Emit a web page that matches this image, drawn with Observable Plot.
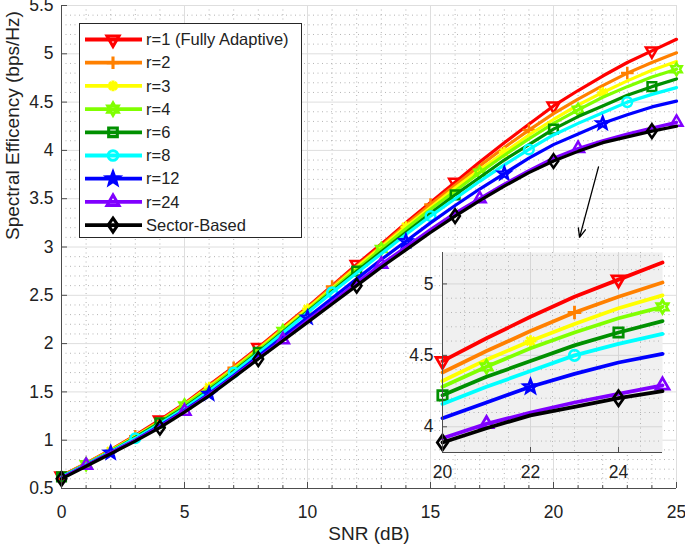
<!DOCTYPE html>
<html>
<head>
<meta charset="utf-8">
<script src="https://cdn.jsdelivr.net/npm/d3@7"></script>
<script src="https://cdn.jsdelivr.net/npm/@observablehq/plot@0.6"></script>
<style>
  html, body { margin: 0; padding: 0; background: #fff; }
  #wrap { position: relative; width: 685px; height: 551px; overflow: hidden; }
  #wrap svg { position: absolute; left: 0; top: 0; }
</style>
</head>
<body>
<div id="wrap"></div>
<script>
// ---------------- DATA ----------------
const snr = [0,1,2,3,4,5,6,7,8,9,10,11,12,13,14,15,16,17,18,19,20,21,22,23,24,25];

const seriesLabels = ["r=1 (Fully Adaptive)", "r=2", "r=3", "r=4", "r=6", "r=8", "r=12", "r=24", "Sector-Based"];
const seriesColors = ["#ff0000", "#ff8000", "#ffff00", "#80ff00", "#009000", "#00ffff", "#0000ff", "#8000ff", "#000000"];
const markerStart  = [0, 3, 2, 1, 0, 3, 2, 1, 0];

const r1  = [0.63,0.76,0.90,1.05,1.21,1.38,1.57,1.76,1.96,2.17,2.38,2.60,2.82,3.03,3.25,3.46,3.67,3.88,4.08,4.27,4.46,4.62,4.77,4.91,5.03,5.15];
const r2  = [0.63,0.76,0.90,1.04,1.20,1.37,1.56,1.75,1.95,2.16,2.37,2.59,2.80,3.01,3.23,3.44,3.64,3.84,4.03,4.21,4.38,4.53,4.67,4.80,4.91,5.01];
const r3  = [0.62,0.75,0.89,1.04,1.19,1.37,1.55,1.74,1.94,2.15,2.36,2.57,2.79,3.00,3.21,3.41,3.61,3.80,3.98,4.16,4.32,4.47,4.60,4.72,4.83,4.92];
const r4  = [0.62,0.75,0.89,1.03,1.19,1.36,1.54,1.73,1.93,2.13,2.34,2.56,2.77,2.98,3.19,3.39,3.58,3.77,3.95,4.12,4.28,4.42,4.55,4.66,4.76,4.84];
const r6  = [0.62,0.75,0.88,1.03,1.18,1.34,1.52,1.71,1.91,2.12,2.33,2.54,2.75,2.95,3.15,3.35,3.54,3.72,3.90,4.06,4.22,4.35,4.46,4.57,4.66,4.74];
const r8  = [0.62,0.75,0.88,1.02,1.17,1.33,1.51,1.70,1.90,2.11,2.32,2.53,2.73,2.93,3.13,3.32,3.50,3.68,3.85,4.01,4.16,4.28,4.39,4.50,4.58,4.65];
const r12 = [0.61,0.74,0.87,1.00,1.15,1.31,1.48,1.67,1.87,2.07,2.27,2.47,2.67,2.87,3.06,3.25,3.43,3.60,3.76,3.92,4.06,4.17,4.28,4.37,4.45,4.51];
const r24 = [0.61,0.74,0.87,1.00,1.14,1.30,1.47,1.66,1.85,2.04,2.24,2.43,2.63,2.82,3.00,3.18,3.35,3.50,3.65,3.79,3.92,4.02,4.10,4.17,4.23,4.29];
const sectorBased = [0.60,0.73,0.86,0.99,1.13,1.29,1.46,1.65,1.84,2.03,2.22,2.41,2.60,2.79,2.97,3.15,3.32,3.48,3.63,3.77,3.89,3.99,4.08,4.14,4.20,4.25];

const xTicks = [0,5,10,15,20,25];
const yTicks = [0.5,1,1.5,2,2.5,3,3.5,4,4.5,5,5.5];
const insetXTicks = [20,22,24];
const insetYTicks = [4,4.5,5];
const insetXDomain = [20,25];
const insetYDomain = [3.82,5.22];

const xLabel = "SNR (dB)";
const yLabel = "Spectral Efficency (bps/Hz)";

const arrowData = [{x1: 21.83, y1: 3.83, x2: 21.06, y2: 3.10}];

// ---------------- STYLE ----------------
const FONT = "'Liberation Sans', Arial, Helvetica, sans-serif";
const AX = "#4d4d4d";
const TXT = "#222222";

function makeSymbol(fn) { return { draw(ctx, size) { fn(ctx, Math.sqrt(size / Math.PI)); } }; }
const symTriDown = makeSymbol((c, r) => { const R = r * 1.15; c.moveTo(0, R); c.lineTo(-R * 0.866, -R * 0.5); c.lineTo(R * 0.866, -R * 0.5); c.closePath(); });
const symTriUp = makeSymbol((c, r) => { const R = r * 1.15; c.moveTo(0, -R); c.lineTo(R * 0.866, R * 0.5); c.lineTo(-R * 0.866, R * 0.5); c.closePath(); });
const symPlus = makeSymbol((c, r) => { const R = r * 1.05; c.moveTo(-R, 0); c.lineTo(R, 0); c.moveTo(0, -R); c.lineTo(0, R); });
const symAsterisk = makeSymbol((c, r) => { const R = r * 0.9, d = R * 0.7; c.moveTo(-R, 0); c.lineTo(R, 0); c.moveTo(0, -R); c.lineTo(0, R); c.moveTo(-d, -d); c.lineTo(d, d); c.moveTo(-d, d); c.lineTo(d, -d); });
const symHexagram = makeSymbol((c, r) => { const R = r * 1.0, ri = R * 0.58; for (let k = 0; k < 12; k++) { const a = -Math.PI / 2 + k * Math.PI / 6; const rr = k % 2 ? ri : R; const x = rr * Math.cos(a), y = rr * Math.sin(a); if (k) c.lineTo(x, y); else c.moveTo(x, y); } c.closePath(); });
const symSquare = makeSymbol((c, r) => { const h = r * 0.72; c.rect(-h, -h, 2 * h, 2 * h); });
const symCircle = makeSymbol((c, r) => { const R = r * 0.8; c.moveTo(R, 0); c.arc(0, 0, R, 0, 2 * Math.PI); });
const symPentagram = makeSymbol((c, r) => { const R = r * 1.05, ri = R * 0.42; for (let k = 0; k < 10; k++) { const a = -Math.PI / 2 + k * Math.PI / 5; const rr = k % 2 ? ri : R; const x = rr * Math.cos(a), y = rr * Math.sin(a); if (k) c.lineTo(x, y); else c.moveTo(x, y); } c.closePath(); });
const symDiamond = makeSymbol((c, r) => { c.moveTo(0, -r * 1.15); c.lineTo(r * 0.8, 0); c.lineTo(0, r * 1.15); c.lineTo(-r * 0.8, 0); c.closePath(); });

const seriesSymbols = [symTriDown, symPlus, symAsterisk, symHexagram, symSquare, symCircle, symPentagram, symTriUp, symDiamond];
const seriesValues = [r1, r2, r3, r4, r6, r8, r12, r24, sectorBased];

const series = seriesValues.map((vals, i) => {
  const rows = snr.map((x, j) => ({x, y: vals[j], j}));
  return {
    label: seriesLabels[i], color: seriesColors[i], symbol: seriesSymbols[i],
    rows, markers: rows.filter(d => d.j >= markerStart[i] && (d.j - markerStart[i]) % 4 === 0)
  };
});

const LW = 3.2, MW = 2.5, MR = 6;

// grid helper positions
const xMinor = snr.filter(v => v % 5 !== 0);
const yMinor = d3.range(6, 55).map(v => v / 10).filter(v => Math.round(v * 10) % 5 !== 0);
const inXMinor = d3.range(41, 50).map(v => v / 2).filter(v => v % 2 !== 0);
const inYMinor = d3.range(39, 53).map(v => v / 10).filter(v => Math.round(v * 10) % 5 !== 0);

// ---------------- MAIN PLOT ----------------
const M = {left: 61, right: 9, top: 5, bottom: 63};
const fw = 685 - M.left - M.right, fh = 551 - M.top - M.bottom;

const mainMarks = [
  Plot.gridX(xMinor, {stroke: "#b4b4b4", strokeOpacity: 1, strokeDasharray: "1,3.5"}),
  Plot.gridY(yMinor, {stroke: "#b4b4b4", strokeOpacity: 1, strokeDasharray: "1,3.5"}),
  Plot.gridX(xTicks, {stroke: "#dedede", strokeOpacity: 1}),
  Plot.gridY(yTicks, {stroke: "#dedede", strokeOpacity: 1}),
];
series.forEach(s => {
  mainMarks.push(Plot.line(s.rows, {x: "x", y: "y", stroke: s.color, strokeWidth: LW}));
  mainMarks.push(Plot.dot(s.markers, {x: "x", y: "y", r: MR, symbol: s.symbol, stroke: s.color, fill: "none", strokeWidth: MW}));
});
mainMarks.push(
  Plot.ruleX([0], {stroke: AX}),
  Plot.ruleY([0.5], {stroke: AX}),
  Plot.tickX(xTicks, {x: d => d, stroke: AX, insetTop: fh - 6}),
  Plot.tickX(xMinor, {x: d => d, stroke: AX, insetTop: fh - 3}),
  Plot.tickY(yTicks, {y: d => d, stroke: AX, insetRight: fw - 6}),
  Plot.axisX({ticks: xTicks, tickSize: 0, tickPadding: 17, tickFormat: d => String(d), label: null, fill: TXT}),
  Plot.axisY({ticks: yTicks, tickSize: 0, tickPadding: 8, tickFormat: d => String(d), label: null, fill: TXT}),
  Plot.text([xLabel], {text: d => d, frameAnchor: "bottom", dy: 51, fontSize: 19, fill: TXT}),
  Plot.text([yLabel], {text: d => d, frameAnchor: "left", rotate: -90, dx: -49, dy: -7, fontSize: 19, fill: TXT}),
  Plot.arrow(arrowData, {x1: "x1", y1: "y1", x2: "x2", y2: "y2", stroke: "black", strokeWidth: 1.3, headLength: 11, headAngle: 45})
);

const main = Plot.plot({
  width: 685, height: 551,
  marginLeft: M.left, marginRight: M.right, marginTop: M.top, marginBottom: M.bottom,
  x: {domain: [0, 25], label: null},
  y: {domain: [0.5, 5.5], label: null},
  style: {fontFamily: FONT, fontSize: "17.5px", color: TXT, background: "white"},
  marks: mainMarks
});

// legend inside the main plot
const svg = d3.select(main);
const lg = svg.append("g").attr("font-family", FONT).attr("text-anchor", "start");
lg.append("rect").attr("x", 79.5).attr("y", 23.5).attr("width", 222).attr("height", 214)
  .attr("fill", "white").attr("stroke", "#262626").attr("stroke-width", 1);
series.forEach((s, i) => {
  const y = 39.5 + i * 23.2;
  lg.append("line").attr("x1", 85).attr("x2", 142).attr("y1", y).attr("y2", y)
    .attr("stroke", s.color).attr("stroke-width", LW + 0.6);
  lg.append("path").attr("transform", `translate(113,${y})`)
    .attr("d", d3.symbol(s.symbol, MR * MR * Math.PI)())
    .attr("fill", "none").attr("stroke", s.color).attr("stroke-width", MW + 0.6);
  lg.append("text").attr("x", 146).attr("y", y).attr("dy", "0.35em")
    .attr("text-anchor", "start")
    .attr("font-size", "16.5px").attr("fill", TXT).text(s.label);
});

// ---------------- INSET ----------------
const I = {left: 442, right: 23, top: 252, bottom: 99};
const ifw = 685 - I.left - I.right, ifh = 551 - I.top - I.bottom;
const insetMarks = [
  Plot.frame({fill: "#f0f0f0", stroke: "none"}),
  Plot.gridX(inXMinor, {stroke: "#b4b4b4", strokeOpacity: 1, strokeDasharray: "1,3.5"}),
  Plot.gridY(inYMinor, {stroke: "#b4b4b4", strokeOpacity: 1, strokeDasharray: "1,3.5"}),
  Plot.gridX(insetXTicks, {stroke: "#d6d6d6", strokeOpacity: 1}),
  Plot.gridY(insetYTicks, {stroke: "#d6d6d6", strokeOpacity: 1}),
];
series.forEach(s => {
  const rows = s.rows.filter(d => d.x >= insetXDomain[0]);
  const marks = s.markers.filter(d => d.x >= insetXDomain[0]);
  insetMarks.push(Plot.line(rows, {x: "x", y: "y", stroke: s.color, strokeWidth: LW + 0.6}));
  insetMarks.push(Plot.dot(marks, {x: "x", y: "y", r: MR + 0.5, symbol: s.symbol, stroke: s.color, fill: "none", strokeWidth: MW + 0.3}));
});
insetMarks.push(
  Plot.ruleX([insetXDomain[0]], {stroke: AX}),
  Plot.ruleY([insetYDomain[0]], {stroke: AX}),
  Plot.tickX(insetXTicks, {x: d => d, stroke: AX, insetTop: ifh - 5}),
  Plot.tickY(insetYTicks, {y: d => d, stroke: AX, insetRight: ifw - 5}),
  Plot.axisX({ticks: insetXTicks, tickSize: 0, tickPadding: 13, tickFormat: d => String(d), label: null, fill: TXT}),
  Plot.axisY({ticks: insetYTicks, tickSize: 0, tickPadding: 9, tickFormat: d => String(d), label: null, fill: TXT})
);

const inset = Plot.plot({
  width: 685, height: 551,
  marginLeft: I.left, marginRight: I.right, marginTop: I.top, marginBottom: I.bottom,
  x: {domain: insetXDomain, label: null},
  y: {domain: insetYDomain, label: null},
  style: {fontFamily: FONT, fontSize: "17.5px", color: TXT, background: "transparent"},
  marks: insetMarks
});

const wrap = document.getElementById("wrap");
wrap.appendChild(main);
wrap.appendChild(inset);
</script>
</body>
</html>
